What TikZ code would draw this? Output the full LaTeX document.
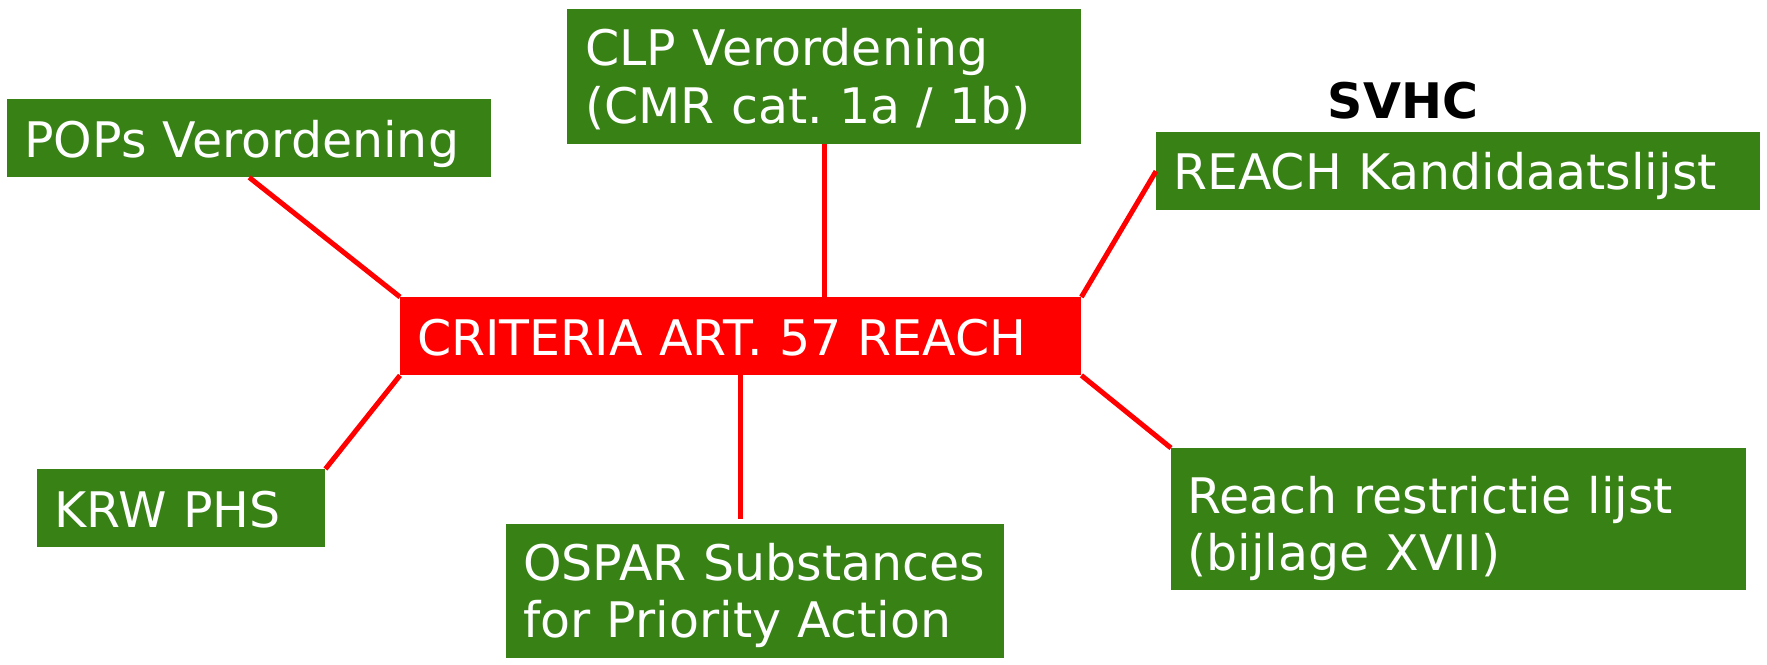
\documentclass[tikz,border=0pt]{standalone}
\usepackage{fontspec}
\setmainfont{DejaVu Sans}
\frenchspacing
\definecolor{boxgreen}{RGB}{56,130,21}
\definecolor{linkred}{RGB}{255,0,0}
\tikzset{
  gbox/.style={rectangle, fill=boxgreen, draw=none, text=white, inner ysep=0pt,
    align=left, anchor=north west, font=\fontsize{49}{57.5}\selectfont},
  rbox/.style={gbox, fill=linkred},
  link/.style={draw=linkred, line width=5pt, line cap=butt},
  heading/.style={anchor=base, text=black, inner sep=0pt, font=\fontsize{49}{57.5}\selectfont\bfseries}
}
\begin{document}
\begin{tikzpicture}[x=1pt,y=-1pt]
\useasboundingbox[fill=white] (0,0) rectangle (1767,664);

\node[gbox, inner xsep=17pt, text width=450pt, text height=58pt, text depth=20pt] (pops) at (7,99) {POPs Verordening};
\node[gbox, inner xsep=18pt, text width=478pt, text height=56.7pt, text depth=78.3pt] (clp) at (567,9) {CLP Verordening\\(CMR cat. 1a / 1b)};
\node[heading] (svhc) at (1403,118.5) {SVHC};
\node[gbox, inner xsep=17pt, text width=570pt, text height=57.3pt, text depth=20.7pt] (reach) at (1156,132) {REACH Kandidaatslijst};
\node[rbox, inner xsep=17pt, text width=647pt, text height=58pt, text depth=20pt] (crit) at (400,297) {CRITERIA ART. 57 REACH};
\node[gbox, inner xsep=17pt, text width=254pt, text height=58.3pt, text depth=19.7pt] (krw) at (37,469) {KRW PHS};
\node[gbox, inner xsep=17pt, text width=464pt, text height=56pt, text depth=78pt] (ospar) at (506,524) {OSPAR Substances\\for Priority Action};
\node[gbox, inner xsep=16pt, text width=543pt, text height=65pt, text depth=77pt] (restr) at (1171,448) {Reach restrictie lijst\\(bijlage XVII)};

\draw[link] (pops.south) -- (crit.north west);
\draw[link] (clp.south) -- (clp.south |- crit.north);
\draw[link] (crit.north east) -- (reach.west);
\draw[link] (crit.south east) -- (restr.north west);
\draw[link, shorten >=5pt] (crit.south) -- (crit.south |- ospar.north);
\draw[link] (krw.north east) -- (crit.south west);
\end{tikzpicture}
\end{document}
